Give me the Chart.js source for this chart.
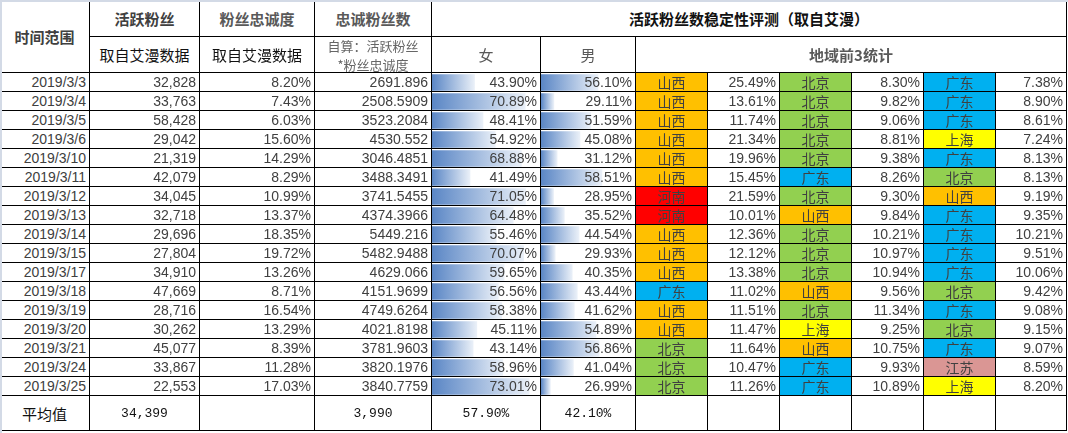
<!DOCTYPE html>
<html>
<head>
<meta charset="utf-8">
<script src="https://cdn.jsdelivr.net/npm/chart.js@4.4.1/dist/chart.umd.min.js"></script>
<style>
  html, body { margin: 0; padding: 0; background: #fff; }
  #sheet { position: relative; width: 1068px; height: 433px; overflow: hidden;
           border-top: 2px solid #d3dae6; border-left: 2px solid #d3dae6; box-sizing: border-box; }
  .cell { position: absolute; box-sizing: border-box; border-right: 1px solid #000; border-bottom: 1px solid #000;
          z-index: 2; display: flex; align-items: center; padding: 0 3px; white-space: nowrap;
          font-family: "Liberation Sans", Arial, "Noto Sans CJK SC", sans-serif; font-size: 14px; color: #404040; }
  .r { justify-content: flex-end; }
  .c { justify-content: center; text-align: center; }
  .cn { font-family: "Noto Sans CJK SC", sans-serif; }
  .hd { font-family: "Noto Sans CJK SC", sans-serif; font-size: 15px; }
  .b { font-weight: bold; }
  .avg { font-family: "Liberation Mono", "DejaVu Sans Mono", monospace; font-size: 13px; color: #111; }
  .two { display: block; line-height: 19px; font-size: 13px; color: #666; }
  .bars { position: absolute; z-index: 1; }
</style>
</head>
<body>
<div id="sheet"></div>
<script>
// data
const dates = ['2019/3/3','2019/3/4','2019/3/5','2019/3/6','2019/3/10','2019/3/11','2019/3/12','2019/3/13','2019/3/14',
               '2019/3/15','2019/3/17','2019/3/18','2019/3/19','2019/3/20','2019/3/21','2019/3/24','2019/3/25'];
const activeFans = [32828,33763,58428,29042,21319,42079,34045,32718,29696,27804,34910,47669,28716,30262,45077,33867,22553];
const loyalty = [8.20,7.43,6.03,15.60,14.29,8.29,10.99,13.37,18.35,19.72,13.26,8.71,16.54,13.29,8.39,11.28,17.03];
const loyalFans = ['2691.896','2508.5909','3523.2084','4530.552','3046.4851','3488.3491','3741.5455','4374.3966','5449.216',
                   '5482.9488','4629.066','4151.9699','4749.6264','4021.8198','3781.9603','3820.1976','3840.7759'];
const female = [43.90,70.89,48.41,54.92,68.88,41.49,71.05,64.48,55.46,70.07,59.65,56.56,58.38,45.11,43.14,58.96,73.01];
const male = [56.10,29.11,51.59,45.08,31.12,58.51,28.95,35.52,44.54,29.93,40.35,43.44,41.62,54.89,56.86,41.04,26.99];
const top1Region = ['山西','山西','山西','山西','山西','山西','河南','河南','山西','山西','山西','广东','山西','山西','北京','北京','北京'];
const top1Share = [25.49,13.61,11.74,21.34,19.96,15.45,21.59,10.01,12.36,12.12,13.38,11.02,11.51,11.47,11.64,10.47,11.26];
const top2Region = ['北京','北京','北京','北京','北京','广东','北京','山西','北京','北京','北京','山西','北京','上海','山西','广东','广东'];
const top2Share = [8.30,9.82,9.06,8.81,9.38,8.26,9.30,9.84,10.21,10.97,10.94,9.56,11.34,9.25,10.75,9.93,10.89];
const top3Region = ['广东','广东','广东','上海','广东','北京','山西','广东','广东','广东','广东','北京','广东','北京','广东','江苏','上海'];
const top3Share = [7.38,8.90,8.61,7.24,8.13,8.13,9.19,9.35,10.21,9.51,10.06,9.42,9.08,9.15,9.07,8.59,8.20];

const regionColors = { '山西': '#ffc000', '北京': '#92d050', '广东': '#00b0f0', '上海': '#ffff00', '河南': '#ff0000', '江苏': '#da9694' };

// sheet layout (column / row edges in px, relative to the sheet box)
const colX = [-2, 88, 198, 313, 430, 539, 634, 706, 778, 850, 922, 994, 1065];
const rowH = 19;
const headTop = [-2, 35, 71];
const dataTop = 71;
const avgTop = dataTop + dates.length * rowH;
const avgBottom = avgTop + 35;

const sheet = document.getElementById('sheet');

function cell(c0, c1, y0, y1, html, cls, bg) {
  const d = document.createElement('div');
  d.className = 'cell ' + (cls || '');
  d.style.left = colX[c0] + 'px';
  d.style.width = (colX[c1] - colX[c0]) + 'px';
  d.style.top = y0 + 'px';
  d.style.height = (y1 - y0) + 'px';
  if (bg) d.style.background = bg;
  d.innerHTML = html;
  sheet.appendChild(d);
}

const pct = v => v.toFixed(2) + '%';
const fmt = v => v.toLocaleString('en-US');

// header
cell(0, 1, headTop[0], headTop[2], '时间范围', 'c hd b', null);
cell(1, 2, headTop[0], headTop[1], '活跃粉丝', 'c hd b', null);
cell(2, 3, headTop[0], headTop[1], '<span style="color:#595959">粉丝忠诚度</span>', 'c hd b', null);
cell(3, 4, headTop[0], headTop[1], '<span style="color:#595959">忠诚粉丝数</span>', 'c hd b', null);
cell(4, 12, headTop[0], headTop[1], '<span style="color:#111">活跃粉丝数稳定性评测（取自艾漫）</span>', 'c hd b', null);
cell(1, 2, headTop[1], headTop[2], '<span style="color:#111">取自艾漫数据</span>', 'c hd', null);
cell(2, 3, headTop[1], headTop[2], '<span style="color:#111">取自艾漫数据</span>', 'c hd', null);
cell(3, 4, headTop[1], headTop[2], '<div class="two">自算：活跃粉丝<br>*粉丝忠诚度</div>', 'c hd', null);
cell(4, 5, headTop[1], headTop[2], '<span style="color:#595959">女</span>', 'c hd', null);
cell(5, 6, headTop[1], headTop[2], '<span style="color:#595959">男</span>', 'c hd', null);
cell(6, 12, headTop[1], headTop[2], '<span style="color:#595959">地域前3统计</span>', 'c hd b', null);

// rows
dates.forEach((d, i) => {
  const y0 = dataTop + i * rowH, y1 = y0 + rowH;
  cell(0, 1, y0, y1, d, 'r');
  cell(1, 2, y0, y1, fmt(activeFans[i]), 'r');
  cell(2, 3, y0, y1, pct(loyalty[i]), 'r');
  cell(3, 4, y0, y1, loyalFans[i], 'r');
  cell(4, 5, y0, y1, pct(female[i]), 'r');
  cell(5, 6, y0, y1, pct(male[i]), 'r');
  cell(6, 7, y0, y1, top1Region[i], 'c cn', regionColors[top1Region[i]]);
  cell(7, 8, y0, y1, pct(top1Share[i]), 'r');
  cell(8, 9, y0, y1, top2Region[i], 'c cn', regionColors[top2Region[i]]);
  cell(9, 10, y0, y1, pct(top2Share[i]), 'r');
  cell(10, 11, y0, y1, top3Region[i], 'c cn', regionColors[top3Region[i]]);
  cell(11, 12, y0, y1, pct(top3Share[i]), 'r');
});

// averages row
const mean = a => a.reduce((s, v) => s + Number(v), 0) / a.length;
cell(0, 1, avgTop, avgBottom, '<span style="color:#111;font-size:15px">平均值</span>', 'c cn');
cell(1, 2, avgTop, avgBottom, fmt(Math.round(mean(activeFans))), 'c avg');
cell(2, 3, avgTop, avgBottom, '', 'c');
cell(3, 4, avgTop, avgBottom, fmt(Math.round(mean(loyalFans))), 'c avg');
cell(4, 5, avgTop, avgBottom, pct(mean(female)), 'c avg');
cell(5, 6, avgTop, avgBottom, pct(mean(male)), 'c avg');
for (let c = 6; c < 12; c++) cell(c, c + 1, avgTop, avgBottom, '', 'c');

// data bars: shared min/max over both columns, 10%..90% of the cell like Excel
const allShares = female.concat(male);
const lo = Math.min(...allShares), hi = Math.max(...allShares);
const span = (hi - lo) / 0.8;

function dataBars(values, c0) {
  const wrap = document.createElement('div');
  wrap.className = 'bars';
  wrap.style.left = colX[c0] + 'px';
  wrap.style.top = dataTop + 'px';
  const w = colX[c0 + 1] - colX[c0] - 1;
  const h = values.length * rowH;
  const cv = document.createElement('canvas');
  cv.width = w; cv.height = h;
  cv.style.width = w + 'px'; cv.style.height = h + 'px';
  wrap.appendChild(cv);
  sheet.appendChild(wrap);

  new Chart(cv.getContext('2d'), {
    type: 'bar',
    data: {
      labels: dates,
      datasets: [{
        data: values,
        barThickness: 16,
        borderWidth: 0,
        backgroundColor: (ctx) => {
          const chart = ctx.chart;
          const area = chart.chartArea;
          if (!area || ctx.raw === undefined) return '#6a90c9';
          const end = chart.scales.x.getPixelForValue(ctx.raw);
          const g = chart.ctx.createLinearGradient(area.left, 0, end, 0);
          g.addColorStop(0, '#5a86c5');
          g.addColorStop(1, '#eaf0f8');
          return g;
        }
      }]
    },
    options: {
      indexAxis: 'y',
      responsive: false,
      animation: false,
      devicePixelRatio: 1,
      layout: { padding: 0 },
      plugins: { legend: { display: false }, tooltip: { enabled: false } },
      scales: {
        x: { display: false, min: lo - 0.1 * span, max: hi + 0.1 * span },
        y: { display: false }
      }
    }
  });
}

dataBars(female, 4);
dataBars(male, 5);
</script>
</body>
</html>
